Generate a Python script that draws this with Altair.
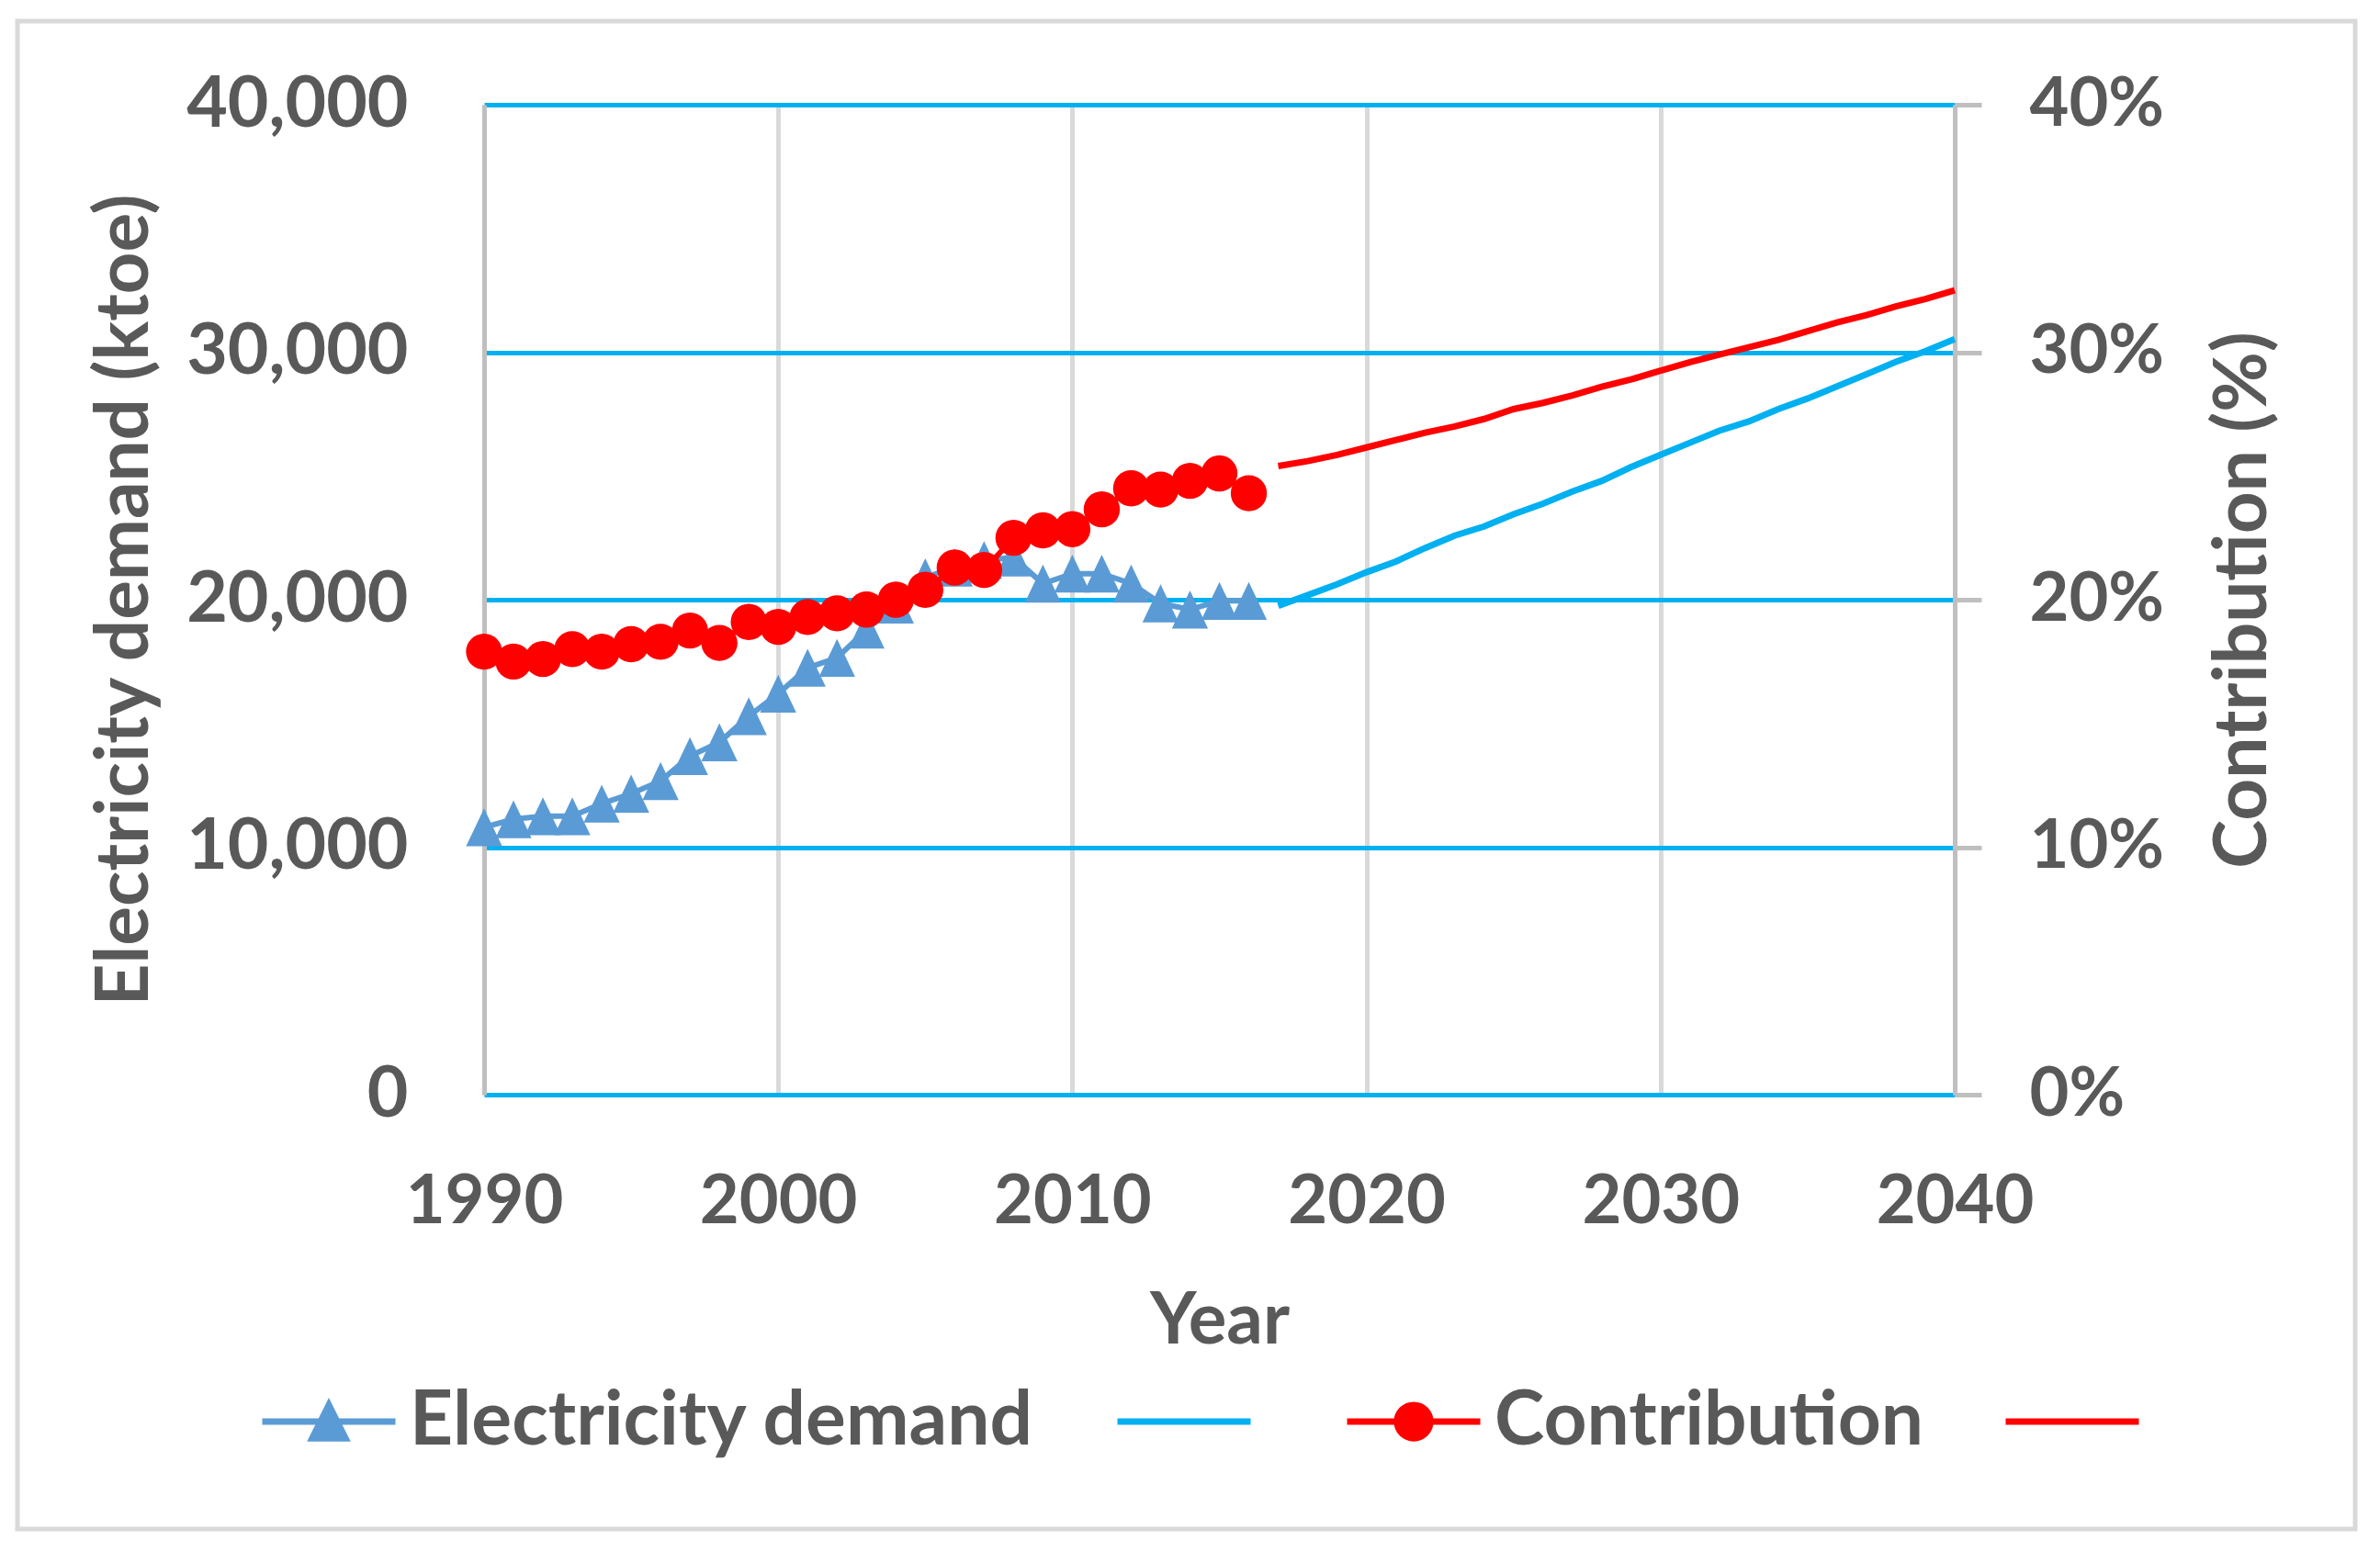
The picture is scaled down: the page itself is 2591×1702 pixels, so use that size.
import altair as alt
import pandas as pd

# ---------------- data ----------------
years_hist = list(range(1990, 2017))
demand_hist = [10800, 11130, 11250, 11250, 11760, 12160, 12670, 13680, 14240, 15290,
               16200, 17250, 17650, 18790, 19800, 20900, 21300, 21600, 21700, 20650,
               21050, 21050, 20650, 19850, 19600, 19950, 19950]
contrib_hist = [17.9, 17.5, 17.6, 18.0, 17.9, 18.2, 18.3, 18.75, 18.25, 19.1,
                18.9, 19.3, 19.45, 19.6, 20.0, 20.4, 21.3, 21.2, 22.5, 22.8,
                22.85, 23.65, 24.5, 24.45, 24.8, 25.1, 24.3]

years_proj = list(range(2017, 2041))
demand_proj = [19750, 20180, 20620, 21110, 21540, 22090, 22590, 22960, 23450, 23880,
               24370, 24800, 25360, 25850, 26340, 26830, 27200, 27700, 28130, 28620,
               29110, 29610, 30040, 30530]
contrib_proj = [25.4, 25.6, 25.85, 26.15, 26.45, 26.75, 27.0, 27.3, 27.7, 27.95,
                28.25, 28.6, 28.9, 29.25, 29.6, 29.9, 30.2, 30.5, 30.85, 31.2,
                31.5, 31.85, 32.15, 32.5]

x_ticks = [1990, 2000, 2010, 2020, 2030, 2040]
left_ticks = [0, 10000, 20000, 30000, 40000]
right_ticks = [0, 10, 20, 30, 40]

series_names = ["Electricity demand", "Electricity demand projection",
                "Contribution", "Contribution projection"]
series_colors = ["#5B9BD5", "#00B0F0", "#FF0000", "#FF0000"]
legend_shapes = [
    "M-1,0H1M-0.25,0.25L0,-0.25L0.25,0.25Z",
    "M-1,0H1",
    "M-1,0H1M-0.25,0A0.25,0.25,0,1,1,0.25,0A0.25,0.25,0,1,1,-0.25,0Z",
    "M-1,0H1",
]

hist = pd.DataFrame({"year": years_hist, "demand": demand_hist, "contrib": contrib_hist})
proj = pd.DataFrame({"year": years_proj, "demand": demand_proj, "contrib": contrib_proj})
legend_df = pd.DataFrame({"series": series_names})
frame_df = pd.DataFrame({"k": [0]})

FONT = "Lato"
TXT = "#595959"
W, H = 1601, 1078

x_enc = alt.X("year:Q",
              scale=alt.Scale(domain=[1990, 2040], nice=False, zero=False),
              axis=alt.Axis(values=x_ticks, format="d", title="Year",
                            grid=True, gridColor="#D9D9D9", gridWidth=5,
                            domain=False, ticks=False, labelFlush=False, labelLimit=1000,
                            labelFont=FONT, labelFontSize=74, labelFontWeight="bold",
                            labelColor=TXT, labelPadding=81,
                            titleFont=FONT, titleFontSize=78, titleFontWeight="bold",
                            titleColor=TXT, titlePadding=54))

y_left = alt.Y("demand:Q",
               scale=alt.Scale(domain=[0, 40000], nice=False),
               axis=alt.Axis(orient="left", values=left_ticks,
                             labelExpr="format(datum.value, ',.0f')",
                             title="Electricity demand (ktoe)",
                             grid=True, gridColor="#00B0F0", gridWidth=5,
                             domain=True, domainColor="#BFBFBF", domainWidth=5,
                             ticks=False, labelFlush=False, labelLimit=1000,
                             labelFont=FONT, labelFontSize=77, labelFontWeight="bold",
                             labelColor=TXT, labelPadding=83,
                             titleX=-367, titleY=H / 2, titleAngle=270,
                             titleBaseline="alphabetic", titleAlign="center",
                             titleFont=FONT, titleFontSize=80, titleFontWeight="bold",
                             titleColor=TXT))

y_right = alt.Y("contrib:Q",
                scale=alt.Scale(domain=[0, 40], nice=False),
                axis=alt.Axis(orient="right", values=right_ticks,
                              labelExpr="datum.value + '%'",
                              title="Contribution (%)",
                              grid=False, labelFlush=False, labelLimit=1000,
                              domain=True, domainColor="#BFBFBF", domainWidth=5,
                              ticks=True, tickColor="#BFBFBF", tickWidth=5, tickSize=29,
                              labelFont=FONT, labelFontSize=74, labelFontWeight="bold",
                              labelColor=TXT, labelPadding=52, labelAlign="left",
                              titleX=338, titleY=H / 2, titleAngle=270,
                              titleBaseline="alphabetic", titleAlign="center",
                              titleFont=FONT, titleFontSize=80, titleFontWeight="bold",
                              titleColor=TXT))

# decorative outer frame (stroke only)
frame = alt.Chart(frame_df).mark_rect(filled=False, stroke="#D9D9D9", strokeWidth=5).encode(
    x=alt.value(-508), x2=alt.value(2037), y=alt.value(-91), y2=alt.value(1551))

demand_line = alt.Chart(hist).mark_line(color="#5B9BD5", strokeWidth=6).encode(x=x_enc, y=y_left)
demand_pts = alt.Chart(hist).mark_point(
    shape="M-1,1.05L0,-1.05L1,1.05Z", filled=True, color="#5B9BD5", size=1550, opacity=1
).encode(x="year:Q", y="demand:Q")
demand_proj_line = alt.Chart(proj).mark_line(color="#00B0F0", strokeWidth=7).encode(x="year:Q", y="demand:Q")

left = alt.layer(demand_line, demand_pts, demand_proj_line)

contrib_line = alt.Chart(hist).mark_line(color="#FF0000", strokeWidth=6).encode(x="year:Q", y=y_right)
contrib_pts = alt.Chart(hist).mark_point(
    shape="circle", filled=True, color="#FF0000", size=1550, opacity=1
).encode(x="year:Q", y="contrib:Q")
contrib_proj_line = alt.Chart(proj).mark_line(color="#FF0000", strokeWidth=7).encode(x="year:Q", y="contrib:Q")

right = alt.layer(contrib_line, contrib_pts, contrib_proj_line)

leg = alt.Legend(title=None, orient="none", legendX=-245, legendY=1358, direction="horizontal",
                 symbolSize=21025, symbolStrokeWidth=7, symbolOpacity=1,
                 labelFont=FONT, labelFontSize=82, labelFontWeight="bold", labelColor=TXT,
                 labelLimit=2000, labelOffset=12, columnPadding=75, padding=0,
                 labelExpr="indexof(datum.label, 'projection') >= 0 ? '' : datum.label")
sc_color = alt.Scale(domain=series_names, range=series_colors)
sc_shape = alt.Scale(domain=series_names, range=legend_shapes)
legend_layer = alt.Chart(legend_df).mark_point(opacity=0, filled=True).encode(
    x=alt.value(0), y=alt.value(0),
    fill=alt.Fill("series:N", scale=sc_color, legend=leg, sort=series_names),
    stroke=alt.Stroke("series:N", scale=sc_color, legend=leg, sort=series_names),
    shape=alt.Shape("series:N", scale=sc_shape, legend=leg, sort=series_names),
)

chart = alt.layer(frame, left, right, legend_layer).resolve_scale(
    y="independent"
).properties(
    width=W, height=H,
    padding={"left": 8, "top": 12, "right": 5, "bottom": 5},
    background="white",
).configure_view(strokeWidth=0)

chart.save("out.html", embed_options={"renderer": "svg", "actions": False})
